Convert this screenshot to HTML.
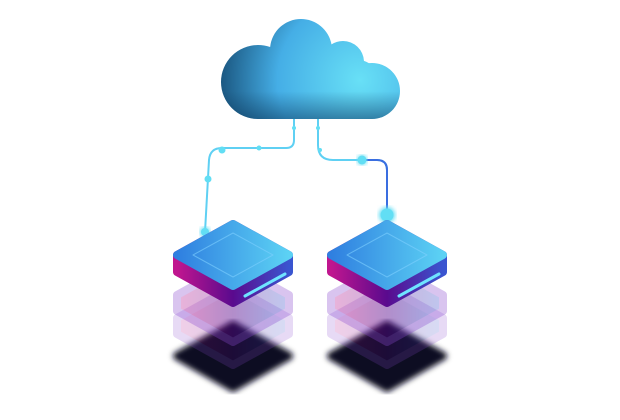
<!DOCTYPE html>
<html><head><style>html,body{margin:0;background:#fff;}svg{display:block}</style></head><body>
<svg width="620" height="420" viewBox="0 0 620 420" xmlns="http://www.w3.org/2000/svg">
<defs>
<radialGradient id="cg" gradientUnits="userSpaceOnUse" cx="360" cy="80" r="150">
<stop offset="0" stop-color="#68e0f6"/><stop offset="0.55" stop-color="#45aee6"/><stop offset="1" stop-color="#13476e"/>
</radialGradient>
<linearGradient id="cb" gradientUnits="userSpaceOnUse" x1="0" y1="20" x2="0" y2="119"><stop offset="0.72" stop-color="#0d3a5e" stop-opacity="0"/><stop offset="1" stop-color="#0d3a5e" stop-opacity="0.5"/></linearGradient>
<linearGradient id="top" x1="0" y1="0" x2="1" y2="0"><stop offset="0" stop-color="#2f7fe0"/><stop offset="1" stop-color="#5cd2f4"/></linearGradient>
<linearGradient id="side" x1="0" y1="0" x2="1" y2="0"><stop offset="0" stop-color="#c0168f"/><stop offset="0.5" stop-color="#5a0a8e"/><stop offset="1" stop-color="#3a55d0"/></linearGradient>
<filter id="bl"><feGaussianBlur stdDeviation="3"/></filter>
<filter id="gl"><feGaussianBlur stdDeviation="2"/></filter>
<clipPath id="cl">
 <circle cx="258" cy="82" r="37"/><circle cx="301" cy="50" r="31"/><circle cx="343" cy="62" r="21"/><circle cx="372" cy="91" r="28"/>
 <circle cx="358" cy="80" r="20"/>
 <rect x="258" y="70" width="114" height="49"/>
</clipPath>
<g id="srv">
 <path d="M4 356 L60 325 L116 356 L60 388 Z" fill="#0b0820" filter="url(#bl)" stroke="#0b0820" stroke-width="8" stroke-linejoin="round"/>
 <g opacity="0.2">
  <path d="M4 318 L60 287 L116 318 L116 334 L60 365 L4 334 Z" fill="url(#side)" stroke="#8a4ad0" stroke-width="8" stroke-linejoin="round"/>
 </g>
 <g opacity="0.32">
  <path d="M4 295 L60 264 L116 295 L116 311 L60 342 L4 311 Z" fill="url(#side)" stroke="#8a4ad0" stroke-width="8" stroke-linejoin="round"/>
 </g>
 <path d="M4 255 L60 224 L116 255 L116 272 L60 303 L4 272 Z" fill="url(#side)" stroke="url(#side)" stroke-width="8" stroke-linejoin="round"/>
 <path d="M4 255 L60 224 L116 255 L60 286 Z" fill="url(#top)" stroke="url(#top)" stroke-width="8" stroke-linejoin="round"/>
 <path d="M20 255 L60 233 L100 255 L60 277 Z" fill="none" stroke="#7fd0ff" stroke-opacity="0.6" stroke-width="1" stroke-linejoin="round"/>
 <path d="M72 296 L112 274" stroke="#6fe4ff" stroke-width="3" stroke-linecap="round"/>
</g>
</defs>
<g clip-path="url(#cl)">
 <rect x="215" y="15" width="190" height="110" fill="url(#cg)"/>
 <rect x="215" y="15" width="190" height="110" fill="url(#cb)"/>
</g>
<g fill="none" stroke-width="2">
 <path d="M294 119 L294 140 Q294 148 286 148 L222 148 Q210 148 209 160 L205 232" stroke="#5fd0f3"/>
 <path d="M318 119 L318 145 Q318 160 333 160 L377 160 Q387 160 387 170 L387 215" stroke="#5fd0f3"/>
 <path d="M362 160 L377 160 Q387 160 387 170 L387 215" stroke="#3a6ee0"/>
</g>
<g fill="#62def4">
 <circle cx="294" cy="128" r="2"/><circle cx="259" cy="148" r="2.5"/><circle cx="222" cy="150" r="3.5"/><circle cx="208" cy="179" r="3.5"/>
 <circle cx="318" cy="128" r="2"/><circle cx="320" cy="150" r="2"/>
 <circle cx="362" cy="160" r="5" filter="url(#gl)"/><circle cx="362" cy="160" r="4.5"/>
 <circle cx="387" cy="215" r="8" filter="url(#gl)"/><circle cx="387" cy="215" r="6.5"/>
 <circle cx="205" cy="232" r="5" filter="url(#gl)"/><circle cx="205" cy="232" r="4"/>
</g>
<use href="#srv" x="173"/>
<use href="#srv" x="327"/>
</svg>
</body></html>
